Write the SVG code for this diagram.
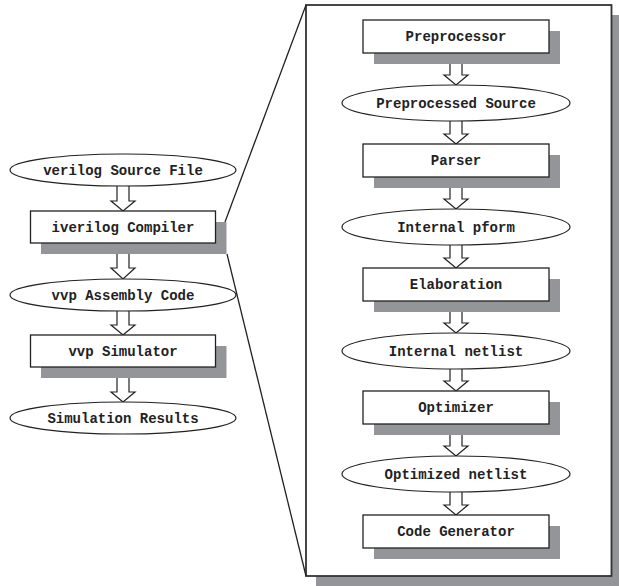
<svg xmlns="http://www.w3.org/2000/svg" width="619" height="586" viewBox="0 0 619 586">
<style>
.box{fill:#fff;stroke:#222;stroke-width:1.3}
.big{fill:#fff;stroke:#333;stroke-width:1.8}
.sh{fill:#939598}
.ell{fill:#fff;stroke:#222;stroke-width:1.2}
.arr{fill:#fff;stroke:#222;stroke-width:1.2;stroke-linejoin:miter}
.ln{stroke:#222;stroke-width:1.3;fill:none}
text{font-family:"Liberation Mono","Courier New",monospace;font-weight:bold;font-size:14px;fill:#222;text-anchor:middle}
</style>
<rect width="619" height="586" fill="#fff"/>
<g id="panel">
<rect class="sh" x="316" y="15" width="306" height="572"/>
<rect class="big" x="306" y="5" width="305.5" height="571"/>
</g>
<g id="connectors">
<line class="ln" x1="306" y1="5" x2="225" y2="222"/>
<line class="ln" x1="227" y1="254" x2="306" y2="576"/>
<path class="arr" d="M117,186 V201 H111 L123,211 L135,201 H129 V186"/>
<path class="arr" d="M117,254 V268 H111 L123,279 L135,268 H129 V254"/>
<path class="arr" d="M117,311 V325 H111 L123,335 L135,325 H129 V311"/>
<path class="arr" d="M117,378 V392 H111 L123,402 L135,392 H129 V378"/>
<path class="arr" d="M450,64 V75 H444 L456,85 L468,75 H462 V64"/>
<path class="arr" d="M450,121 V134 H444 L456,144 L468,134 H462 V121"/>
<path class="arr" d="M450,188 V199 H444 L456,209 L468,199 H462 V188"/>
<path class="arr" d="M450,245 V258 H444 L456,268 L468,258 H462 V245"/>
<path class="arr" d="M450,312 V323 H444 L456,333 L468,323 H462 V312"/>
<path class="arr" d="M450,369 V381 H444 L456,391 L468,381 H462 V369"/>
<path class="arr" d="M450,435 V446 H444 L456,456 L468,446 H462 V435"/>
<path class="arr" d="M450,492 V505 H444 L456,515 L468,505 H462 V492"/>
</g>
<g id="n-source"><ellipse class="ell" cx="123" cy="170" rx="113" ry="16"/><text x="123" y="175">verilog Source File</text></g>
<g id="n-iverilog"><rect class="sh" x="41" y="222" width="185.5" height="32"/><rect class="box" x="30.5" y="211" width="185" height="32"/><text x="123" y="232">iverilog Compiler</text></g>
<g id="n-asm"><ellipse class="ell" cx="123" cy="295" rx="113" ry="16"/><text x="123" y="300">vvp Assembly Code</text></g>
<g id="n-vvp"><rect class="sh" x="41" y="346" width="185.5" height="32"/><rect class="box" x="30.5" y="335" width="185" height="32"/><text x="123" y="356">vvp Simulator</text></g>
<g id="n-results"><ellipse class="ell" cx="123" cy="418" rx="113" ry="16"/><text x="123" y="423">Simulation Results</text></g>
<g id="n-pre"><rect class="sh" x="374" y="31" width="186" height="33"/><rect class="box" x="363" y="20" width="186" height="33"/><text x="456" y="41">Preprocessor</text></g>
<g id="n-presrc"><ellipse class="ell" cx="456" cy="103" rx="114" ry="18"/><text x="456" y="108">Preprocessed Source</text></g>
<g id="n-parser"><rect class="sh" x="374" y="155" width="186" height="33"/><rect class="box" x="363" y="144" width="186" height="33"/><text x="456" y="165">Parser</text></g>
<g id="n-pform"><ellipse class="ell" cx="456" cy="227" rx="114" ry="18"/><text x="456" y="232">Internal pform</text></g>
<g id="n-elab"><rect class="sh" x="374" y="279" width="186" height="33"/><rect class="box" x="363" y="268" width="186" height="33"/><text x="456" y="289">Elaboration</text></g>
<g id="n-netlist"><ellipse class="ell" cx="456" cy="351" rx="114" ry="18"/><text x="456" y="356">Internal netlist</text></g>
<g id="n-opt"><rect class="sh" x="374" y="402" width="186" height="33"/><rect class="box" x="363" y="391" width="186" height="33"/><text x="456" y="412">Optimizer</text></g>
<g id="n-optnet"><ellipse class="ell" cx="456" cy="474" rx="114" ry="18"/><text x="456" y="479">Optimized netlist</text></g>
<g id="n-codegen"><rect class="sh" x="374" y="526" width="186" height="33"/><rect class="box" x="363" y="515" width="186" height="33"/><text x="456" y="536">Code Generator</text></g>
</svg>
